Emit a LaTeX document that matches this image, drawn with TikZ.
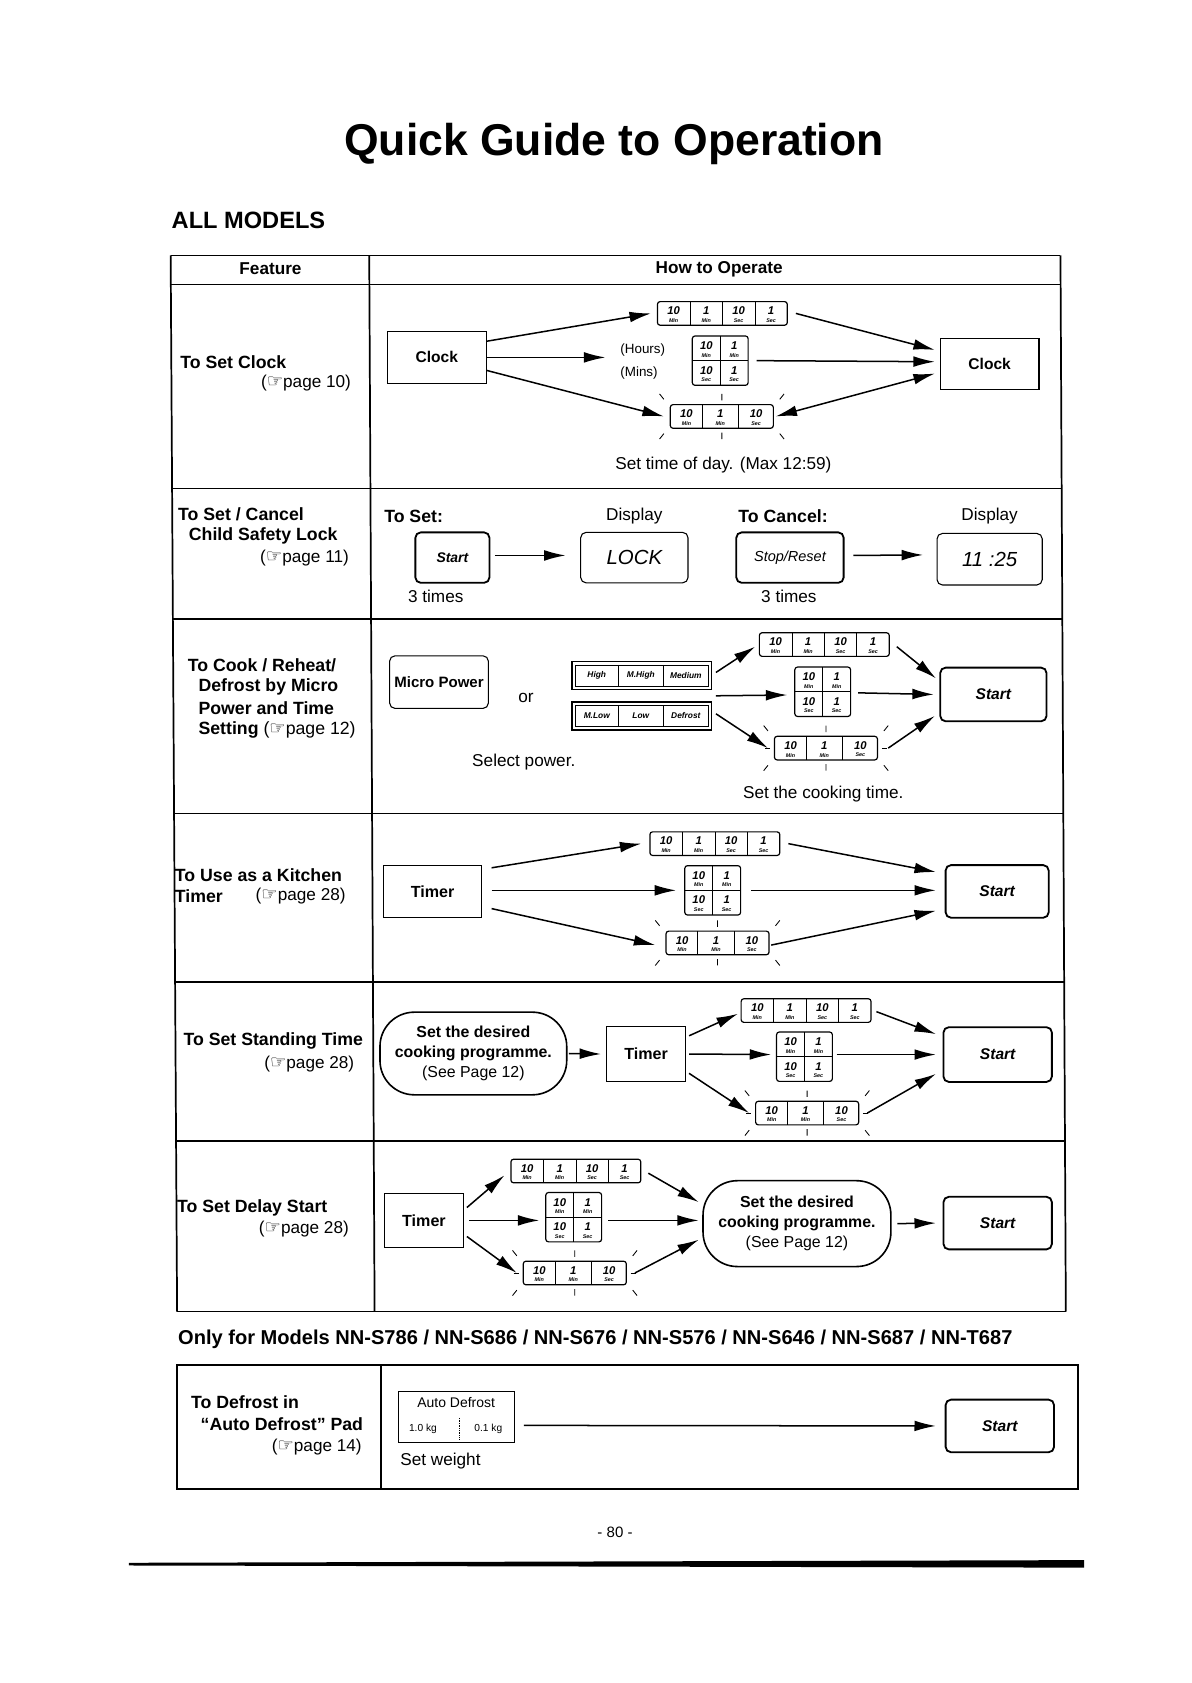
\documentclass[tikz,border=0pt]{standalone}
\usepackage{fontspec}
\setmainfont{Liberation Sans}
\newfontfamily\symf{DejaVu Sans}
\usetikzlibrary{arrows.meta,calc}
\newcommand{\fs}[1]{\fontsize{#1}{#1}\selectfont}
\newcommand{\hand}{{\symf\fontsize{17}{17}\selectfont ☞}}
\tikzset{
 every node/.style={inner sep=0pt, outer sep=0pt},
 ft/.style={font=\fs{16.5}\bfseries},
 rt/.style={font=\fs{16}},
 tline/.style={line width=1.6pt},
 arr/.style={line width=1.4pt, -{Latex[length=20pt,width=10pt]}},
 darr/.style={line width=1.4pt, {Latex[length=20pt,width=10pt]}-{Latex[length=20pt,width=10pt]}},
 sqbox/.style={draw, line width=1pt},
 rbox/.style={draw, line width=1pt, rounded corners=5pt},
 stbox/.style={draw, line width=1.7pt, rounded corners=5pt},
 dbox/.style={draw, line width=1.1pt, rounded corners=2.5pt},
 pill/.style={draw, line width=1.5pt, rounded corners=32pt},
 dnum/.style={font=\fs{10.5}\bfseries\itshape},
 dlab/.style={font=\fs{5}\bfseries\itshape},
 ptxt/.style={font=\fs{7.8}\bfseries\itshape},
 tk/.style={line width=0.8pt},
}
\newcommand{\dcell}[5]{%
 \node[dnum] (#1n) at (#2,#3-2.5) {#4};
 \node[dlab] (#1l) at (#2,#3+6.5) {#5};}
\newcommand{\dfour}[3]{%
 \node[dbox, minimum width=121pt, minimum height=22pt] (#1) at (#2,#3) {};
 \begin{scope}[shift={(#2,#3)}]
  \draw[line width=0.6pt] (-30.25,-11)--(-30.25,11) (0,-11)--(0,11) (30.25,-11)--(30.25,11);
  \dcell{#1a}{-45.4}{0}{10}{Min}\dcell{#1b}{-15.1}{0}{1}{Min}\dcell{#1c}{15.1}{0}{10}{Sec}\dcell{#1d}{45.4}{0}{1}{Sec}
 \end{scope}}
\newcommand{\dsq}[3]{%
 \node[dbox, minimum width=52pt, minimum height=46pt] (#1) at (#2,#3) {};
 \begin{scope}[shift={(#2,#3)}]
  \draw[line width=0.6pt] (0,-23)--(0,23) (-26,0)--(26,0);
  \dcell{#1a}{-13}{-11.5}{10}{Min}\dcell{#1b}{13}{-11.5}{1}{Min}\dcell{#1c}{-13}{11.5}{10}{Sec}\dcell{#1d}{13}{11.5}{1}{Sec}
 \end{scope}}
\newcommand{\dthree}[4]{%
 \node[dbox, minimum width=96pt, minimum height=22pt] (#1) at (#2,#3) {};
 \begin{scope}[shift={(#2,#3)}]
  \draw[line width=0.6pt] (-18.5,-11)--(-18.5,11) (15.5,-11)--(15.5,11);
  \dcell{#1a}{-33}{0}{10}{Min}\dcell{#1b}{-1.5}{0}{1}{Min}\dcell{#1c}{32}{0}{10}{Sec}
  \draw[tk] (-58,-21)--(-54,-16) (0,-21)--(0,-15) (58,-21)--(54,-16)
            (-54,16)--(-58,21) (0,15)--(0,21) (54,16)--(58,21);
  \ifnum#4=1\relax \draw[tk] (-57,0)--(-52,0) (52,0)--(57,0);\fi
 \end{scope}}
\newcommand{\pwrpanel}[6]{%
 \node[draw, line width=1.4pt, minimum width=130pt, minimum height=26pt] (#1) at (#2,#3) {};
 \begin{scope}[shift={(#2,#3)}]
  \draw[line width=0.6pt] (-62,-10) rectangle (62,10);
  \draw[line width=0.6pt] (-22,-10)--(-22,10) (20,-10)--(20,10);
  \node[ptxt] (#1a) at (-42,0) {#4};
  \node[ptxt] (#1b) at (-1,0) {#5};
  \node[ptxt] (#1c) at (41,0) {#6};
 \end{scope}}
\begin{document}
\begin{tikzpicture}[x=1pt,y=-1pt]
\useasboundingbox (0,0) rectangle (1110,1568);
\fill[white] (0,0) rectangle (1110,1568);

\node[font=\fs{41.5}\bfseries] (title) at (572,134) {Quick Guide to Operation};
\node[font=\fs{22}\bfseries, anchor=west] (allm) at (160,205) {ALL MODELS};

% main table
\draw[tline] (159,238) -- (988,238);
\draw[tline] (159,238) -- (165,1222);
\draw[tline] (988,238) -- (993,1222);
\draw[tline] (344,238) -- (349,1222);
\draw[tline] (165,1222) -- (993,1222);
\foreach \yy in {265,455,577,758,915,1063}
  \draw[tline] ({159+6*(\yy-238)/984},\yy) -- ({988+5*(\yy-238)/984},\yy);
\node[font=\fs{16}\bfseries] (hf) at (252,250) {Feature};
\node[font=\fs{16}\bfseries] (hh) at (670,251) {How to Operate};

% row 1
\node[ft, anchor=west] (f1a) at (168,337) {To Set Clock};
\node[rt, anchor=east] (f1b) at (327,357) {(\hand page 10)};
\node[sqbox, minimum width=92pt, minimum height=48pt, font=\fs{14.5}\bfseries] (clk1) at (407,333) {Clock};
\dfour{t1}{673}{292}
\dsq{m1}{671}{336}
\dthree{b1}{672.5}{388}{0}
\node[sqbox, minimum width=92pt, minimum height=48pt, font=\fs{14.5}\bfseries] (clk2) at (922,339) {Clock};
\node[font=\fs{12.5}, anchor=west] (hrs) at (578,326) {(Hours)};
\node[font=\fs{12.5}, anchor=west] (mns) at (578,348) {(Mins)};
\node[rt] (n1) at (674,433) {Set time of day. (Max 12:59)};
\coordinate (c1) at (564,333);
\draw[arr] ($(clk1.east)+(0,-15)$) -- ($(t1.west)+(-6,0)$);
\draw[arr] (clk1.east) -- (c1);
\draw[arr] ($(clk1.east)+(0,12)$) -- ($(b1.west)+(-6,0)$);
\draw[arr] ($(t1.east)+(8,0)$) -- ($(clk2.west)+(-5,-13)$);
\draw[arr] ($(m1.east)+(8,0)$) -- ($(clk2.west)+(-5,-2)$);
\draw[darr] ($(b1.east)+(2,0)$) -- ($(clk2.west)+(-5,9)$);

% row 2
\node[ft, anchor=west] (f2a) at (166,479) {To Set / Cancel};
\node[ft, anchor=west] (f2b) at (176,499) {Child Safety Lock};
\node[rt, anchor=east] (f2c) at (325,520) {(\hand page 11)};
\node[ft, anchor=west] (ts) at (358,481) {To Set:};
\node[rt] (dp1) at (591,481) {Display};
\node[ft, anchor=west] (tc) at (688,481) {To Cancel:};
\node[rt] (dp2) at (922,481) {Display};
\node[stbox, minimum width=69pt, minimum height=47pt, font=\fs{13}\bfseries\itshape] (st2) at (421.5,519.5) {Start};
\node[rbox, minimum width=100pt, minimum height=47pt, font=\fs{19}\itshape] (lock) at (591,519.5) {LOCK};
\node[stbox, minimum width=100pt, minimum height=47pt, font=\fs{13.5}\itshape] (stop) at (736,519.5) {Stop/Reset};
\node[rbox, minimum width=98pt, minimum height=48pt, font=\fs{19}\itshape] (d1125) at (922,521) {11 :25};
\node[rt] (x3a) at (406,556) {3 times};
\node[rt] (x3b) at (735,556) {3 times};
\draw[arr] ($(st2.east)+(5,-2)$) -- ($(lock.west)+(-14,-2)$);
\draw[arr] ($(stop.east)+(9,-2)$) -- ($(d1125.west)+(-13,-4)$);

% row 3
\node[ft, anchor=west] (f3a) at (175,620) {To Cook / Reheat/};
\node[ft, anchor=west] (f3b) at (185,640) {Defrost by Micro};
\node[ft, anchor=west] (f3c) at (185,660) {Power and Time};
\node[ft, anchor=west] (f3d) at (185,680) {Setting {\mdseries(\hand page 12)}};
\node[rbox, minimum width=92pt, minimum height=49pt, font=\fs{14}\bfseries] (mp) at (409,635.5) {Micro Power};
\node[rt] (or) at (490,650) {or};
\pwrpanel{p1}{598}{629.5}{High}{M.High}{Medium}
\pwrpanel{p2}{598}{667}{M.Low}{Low}{Defrost}
\dfour{t3}{768}{600.5}
\dsq{m3}{766.5}{644.5}
\dthree{b3}{769.5}{697}{1}
\node[stbox, minimum width=99pt, minimum height=50pt, font=\fs{14.5}\bfseries\itshape] (st3) at (925.5,647) {Start};
\node[rt] (sp) at (488,710) {Select power.};
\node[rt] (sct) at (767,740) {Set the cooking time.};
\coordinate (c3) at ($(p1.south east)!0.5!(p2.north east)+(4,0)$);
\draw[arr] ($(p1.east)+(4,-3)$) -- ($(t3.west)+(-4,2)$);
\draw[arr] (c3) -- ($(m3.west)+(-7,3)$);
\draw[arr] ($(p2.east)+(4,-2)$) -- ($(b3.west)+(-6,0)$);
\draw[arr] ($(t3.east)+(7,2)$) -- ($(st3.west)+(-4,-15)$);
\draw[arr] ($(m3.east)+(7,1)$) -- ($(st3.west)+(-6,0)$);
\draw[arr] ($(b3.east)+(10,0)$) -- ($(st3.west)+(-5,20)$);

% row 4
\node[ft, anchor=west] (f4a) at (163,815) {To Use as a Kitchen};
\node[ft, anchor=west] (f4b) at (163,835) {Timer};
\node[rt, anchor=east] (f4c) at (322,835) {(\hand page 28)};
\node[sqbox, minimum width=92pt, minimum height=49pt, font=\fs{15}\bfseries] (tm4) at (403,830.5) {Timer};
\dfour{t4}{666}{786}
\dsq{m4}{664}{829.5}
\dthree{b4}{668.5}{878.5}{0}
\node[stbox, minimum width=96pt, minimum height=49pt, font=\fs{14.5}\bfseries\itshape] (st4) at (929,830.5) {Start};
\draw[arr] ($(tm4.east)+(9,-22)$) -- ($(t4.west)+(-8,0)$);
\draw[arr] ($(tm4.east)+(9,-1)$) -- ($(m4.west)+(-8,0)$);
\draw[arr] ($(tm4.east)+(9,16)$) -- ($(b4.west)+(-10,2)$);
\draw[arr] ($(t4.east)+(8,0)$) -- ($(st4.west)+(-9,-18)$);
\draw[arr] ($(m4.east)+(10,0)$) -- ($(st4.west)+(-9,-1)$);
\draw[arr] ($(b4.east)+(2,2)$) -- ($(st4.west)+(-9,18)$);

% row 5
\node[ft, anchor=west] (f5a) at (171,970) {To Set Standing Time};
\node[rt, anchor=east] (f5b) at (330,991) {(\hand page 28)};
\node[pill, minimum width=174pt, minimum height=77pt, align=center, font=\fontsize{14.8}{18.5}\selectfont] (pl5) at (441,981.5) {{\bfseries Set the desired}\\{\bfseries cooking programme.}\\(See Page 12)};
\node[sqbox, minimum width=74pt, minimum height=52pt, font=\fs{15}\bfseries] (tm5) at (602,982) {Timer};
\dfour{t5}{751}{941.5}
\dsq{m5}{749.5}{984.5}
\dthree{b5}{752}{1037}{1}
\node[stbox, minimum width=101pt, minimum height=51pt, font=\fs{14.5}\bfseries\itshape] (st5) at (929.5,982.5) {Start};
\draw[arr] ($(pl5.east)+(2,0)$) -- ($(tm5.west)+(-5,0)$);
\draw[arr] ($(tm5.east)+(3,-17)$) -- ($(t5.west)+(-3,3)$);
\draw[arr] ($(tm5.east)+(3,0)$) -- ($(m5.west)+(-5,-2)$);
\draw[arr] ($(tm5.east)+(3,18)$) -- ($(b5.west)+(-6,0)$);
\draw[arr] ($(t5.east)+(5,1)$) -- ($(st5.west)+(-7,-19)$);
\draw[arr] ($(m5.east)+(4,-2)$) -- ($(st5.west)+(-7,0)$);
\draw[arr] ($(b5.east)+(8,0)$) -- ($(st5.west)+(-7,18)$);

% row 6
\node[ft, anchor=west] (f6a) at (165,1125) {To Set Delay Start};
\node[rt, anchor=east] (f6b) at (325,1145) {(\hand page 28)};
\node[sqbox, minimum width=74pt, minimum height=50pt, font=\fs{15}\bfseries] (tm6) at (395,1137) {Timer};
\dfour{t6}{536.5}{1091}
\dsq{m6}{534.5}{1134}
\dthree{b6}{535.5}{1186}{1}
\node[pill, minimum width=175pt, minimum height=80pt, align=center, font=\fontsize{14.8}{18.5}\selectfont] (pl6) at (742.5,1140) {{\bfseries Set the desired}\\{\bfseries cooking programme.}\\(See Page 12)};
\node[stbox, minimum width=101pt, minimum height=49pt, font=\fs{14.5}\bfseries\itshape] (st6) at (929.5,1139.5) {Start};
\draw[arr] ($(tm6.east)+(3,-12)$) -- ($(t6.west)+(-6,4)$);
\draw[arr] ($(tm6.east)+(5,0)$) -- ($(m6.west)+(-6,3)$);
\draw[arr] ($(tm6.east)+(3,15)$) -- ($(b6.west)+(-6,0)$);
\draw[arr] ($(t6.east)+(7,2)$) -- ($(pl6.west)+(-4,-20)$);
\draw[arr] ($(m6.east)+(6,3)$) -- ($(pl6.west)+(-4,-3)$);
\draw[arr] ($(b6.east)+(8,0)$) -- ($(pl6.west)+(-4,15)$);
\draw[arr] ($(pl6.east)+(6,0)$) -- ($(st6.west)+(-7,0)$);

% models line
\node[font=\fs{18.7}\bfseries, anchor=west] (only) at (166,1248) {Only for Models NN-S786 / NN-S686 / NN-S676 / NN-S576 / NN-S646 / NN-S687 / NN-T687};

% second table
\draw[tline] (165,1272) rectangle (1004,1387);
\draw[tline] (355,1272) -- (355,1387);
\node[ft, anchor=west] (f7a) at (178,1306) {To Defrost in};
\node[ft, anchor=west] (f7b) at (187,1327) {“Auto Defrost” Pad};
\node[rt, anchor=east] (f7c) at (337,1348) {(\hand page 14)};
\node[sqbox, minimum width=108pt, minimum height=48pt] (ad) at (425,1320) {};
\node[font=\fs{13}] (adt) at (425,1307) {Auto Defrost};
\node[font=\fs{9.5}] (ad1) at (394,1331) {1.0 kg};
\node[font=\fs{9.5}] (ad2) at (455,1331) {0.1 kg};
\draw[densely dotted, line width=0.6pt] (428,1321) -- (428,1341);
\node[rt, anchor=west] (sw) at (373,1361) {Set weight};
\node[stbox, minimum width=101pt, minimum height=49pt, font=\fs{14.5}\bfseries\itshape] (st7) at (931.5,1328.5) {Start};
\draw[arr] ($(ad.east)+(9,8)$) -- ($(st7.west)+(-9,0)$);

% page number and bar
\node[font=\fs{14}] (pg) at (573,1428) {- 80 -};
\fill (120,1456) -- (1010,1453.5) -- (1010,1460.5) -- (120,1458.5) -- cycle;
\end{tikzpicture}
\end{document}
